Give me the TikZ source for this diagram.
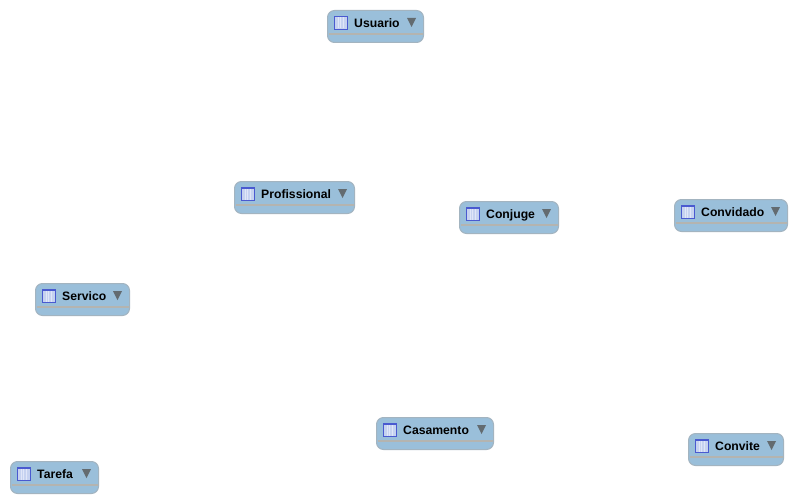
\documentclass[tikz,border=0pt]{standalone}
\usepackage{fontspec}
\setmainfont{Liberation Sans}
\definecolor{tblfill}{HTML}{9ABFDA}
\definecolor{tbledge}{HTML}{A3B4C0}
\definecolor{tbldiv}{HTML}{B4B4B0}
\definecolor{tri}{HTML}{636B70}
\definecolor{iconedge}{HTML}{4A5AD0}
\definecolor{iconfill}{HTML}{C6D2F0}
\definecolor{iconline}{HTML}{E0E6F8}
\tikzset{
  x=1pt,y=-1pt,
  tablebox/.style={draw=tbledge,fill=tblfill,line width=1pt,rounded corners=7pt},
  tablelabel/.style={anchor=base west,inner sep=0pt,font=\fontsize{12.2}{14}\selectfont\bfseries,text=black},
  divider/.style={draw=tbldiv,line width=1.2pt},
  iconbox/.style={draw=iconedge,fill=iconfill,line width=0.9pt},
  iconrule/.style={draw=iconline,line width=0.8pt},
  icontop/.style={draw=iconedge,line width=1.6pt},
  tritip/.style={fill=tri}
}
% name, label, left, top, right
\newcommand{\tablenode}[5]{%
  \draw[tablebox] (#3,#4) rectangle (#5,#4+32);
  \draw[divider] (#3+1,#4+23.5) -- (#5-1,#4+23.5);
  \draw[iconbox] (#3+6.5,#4+5.5) rectangle (#3+19.5,#4+18.5);
  \draw[iconrule] (#3+10.5,#4+7) -- (#3+10.5,#4+18) (#3+13,#4+7) -- (#3+13,#4+18) (#3+15.5,#4+7) -- (#3+15.5,#4+18);
  \draw[icontop] (#3+6.5,#4+6.2) -- (#3+19.5,#4+6.2);
  \fill[tritip] (#5-16.5,#4+7.5) -- (#5-7.5,#4+7.5) -- (#5-12,#4+16.5) -- cycle;
  \node[tablelabel] (#1) at (#3+26.5,#4+17) {#2};
}
\begin{document}
\begin{tikzpicture}
\useasboundingbox (0,0) rectangle (797,503);
\fill[white] (0,0) rectangle (797,503);
\tablenode{usuario}{Usuario}{327.5}{10.5}{423.5}
\tablenode{profissional}{Profissional}{234.5}{181.5}{354.5}
\tablenode{conjuge}{Conjuge}{459.5}{201.5}{558.5}
\tablenode{convidado}{Convidado}{674.5}{199.5}{787.5}
\tablenode{servico}{Servico}{35.5}{283.5}{129.5}
\tablenode{casamento}{Casamento}{376.5}{417.5}{493.5}
\tablenode{convite}{Convite}{688.5}{433.5}{783.5}
\tablenode{tarefa}{Tarefa}{10.5}{461.5}{98.5}
\end{tikzpicture}
\end{document}
